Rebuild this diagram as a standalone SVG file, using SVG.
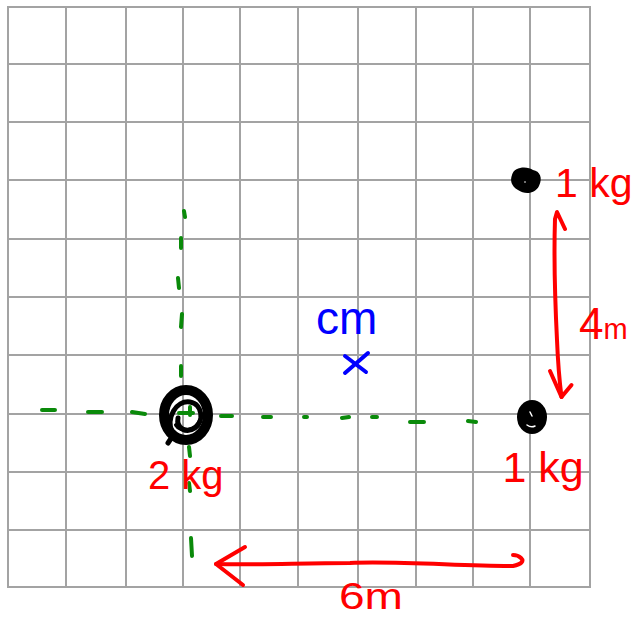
<svg xmlns="http://www.w3.org/2000/svg" width="632" height="619" viewBox="0 0 632 619">
<style>
.grid{stroke:#a3a3a3;stroke-width:2;fill:none}
.g{stroke:#0a8a0a;stroke-width:4;stroke-linecap:round;fill:none}
.r{stroke:#ff0000;stroke-width:4;stroke-linecap:round;stroke-linejoin:round;fill:none}
.lbl{font-family:"Liberation Sans",Arial,sans-serif;fill:#ff0000}
.hand{font-family:"Liberation Sans",Arial,sans-serif}
</style>
<rect width="632" height="619" fill="#ffffff"/>
<g id="grid" class="grid">
<rect x="8" y="7" width="582" height="580"/>
<path d="M66,7V587M126,7V587M183,7V587M240,7V587M298,7V587M358,7V587M416,7V587M473,7V587M530,7V587"/>
<path d="M8,64H590M8,122H590M8,180H590M8,239H590M8,297H590M8,355H590M8,414H590M8,472H590M8,530H590"/>
</g>
<g id="connectors">
<g id="axis-x" class="g">
<path d="M42,410L55,410M88,412L102,412M132,412L145,414M221,416L232,416M263,417L271,417M304,417L307,417M342,418L349,417M372,417L377,417M410,422L424,422M468,421L476,422"/>
</g>
<g id="axis-y" class="g">
<path d="M184,211L185,217M181,238L181,248M178,278L179,288M182,314L181,327M181,366L181,376M189,447L190,456M189,483L190,491M191,538L192,556"/>
</g>
<g id="arrow-4m" class="r">
<path d="M565,229L557,212L555,219C554,250 555,300 557,340C558,365 560,385 561.5,397"/>
<path d="M550,371L561.5,397L571.5,385"/>
</g>
<g id="arrow-6m" class="r">
<path d="M245,547L216,564L243,585"/>
<path d="M216,564C260,565 300,563 350,563C400,561 460,566 513,566Q526,563 521,558Q518,555 513,555"/>
</g>
</g>
<g id="mass-2kg">
<ellipse cx="186" cy="415" rx="22" ry="25" fill="none" stroke="#000" stroke-width="10"/>
<path d="M172,432C166,418 176,400 190,402C203,404 204,422 195,428C186,434 176,428 178,418" fill="none" stroke="#000" stroke-width="5" stroke-linecap="round"/>
<path d="M176,425C180,432 196,432 200,420" fill="none" stroke="#000" stroke-width="4" stroke-linecap="round"/>
<path d="M168,443L174,434" stroke="#000" stroke-width="5" stroke-linecap="round"/>
<path d="M179,413L193,413M190,407L190,415" class="g"/>
<text class="lbl" x="148" y="489" font-size="40">2 kg</text>
</g>
<g id="mass-1kg-top">
<path d="M512,175C514,166 528,166 533,170C540,171 543,178 539,186C535,194 525,195 518,190C511,186 510,180 512,175Z" fill="#000"/>
<circle cx="525" cy="182" r="0.8" fill="#fff"/>
<text class="lbl" x="555" y="197" font-size="41">1 kg</text>
</g>
<g id="mass-1kg-right">
<ellipse cx="532" cy="417" rx="15" ry="17" fill="#000"/>
<path d="M530,412L532,416M527,425Q531,428 535,426" stroke="#fff" stroke-width="1.5" fill="none" stroke-linecap="round"/>
<text class="lbl" x="502.5" y="482" font-size="43">1 kg</text>
</g>
<g id="center-of-mass">
<text class="hand" x="316" y="334" font-size="46" fill="#0000ff">cm</text>
<path d="M345,373L368,353M345,356L366,372" stroke="#0000ff" stroke-width="4" stroke-linecap="round" fill="none"/>
</g>
<g id="labels">
<text class="hand" x="579" y="339" font-size="44" fill="#ff0000">4<tspan font-size="29">m</tspan></text>
<text class="hand" x="339" y="609" font-size="36" fill="#ff0000" textLength="64" lengthAdjust="spacingAndGlyphs">6m</text>
</g>
</svg>
